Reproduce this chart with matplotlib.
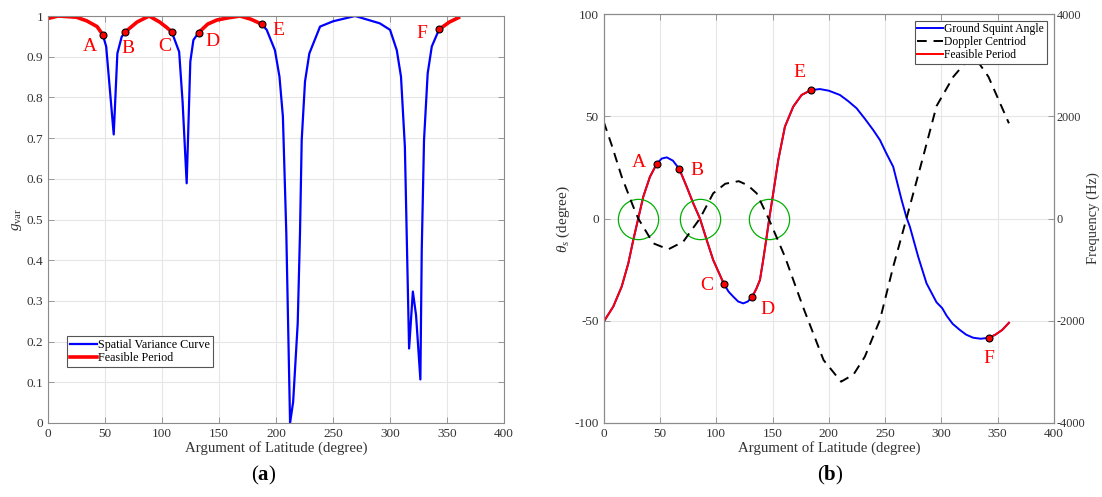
import numpy as np
import matplotlib
matplotlib.use("Agg")
import matplotlib.pyplot as plt
from matplotlib.lines import Line2D
from matplotlib.ticker import FuncFormatter

plt.rcParams['font.family'] = ['Liberation Serif', 'DejaVu Serif']
plt.rcParams['mathtext.fontset'] = 'custom'
plt.rcParams['mathtext.rm'] = 'Liberation Serif'
plt.rcParams['mathtext.it'] = 'Liberation Serif:italic'
plt.rcParams['mathtext.bf'] = 'Liberation Serif:bold'
plt.rcParams['axes.unicode_minus'] = False

# ---- panel (a): spatial variance curve ----
lat_a = [0, 8.8, 25, 34, 43, 48, 51, 57.6, 60.8, 64.6, 67.8, 78, 88.6, 98, 104, 108.5,
         115, 118, 121.6, 124.8, 127.5, 132, 140, 148, 157, 168.4, 178, 187.4, 191.8,
         199, 203, 206, 209, 212.3, 215, 219, 221, 222.5, 225.4, 229.2, 238.6, 250,
         269.3, 291, 300, 305.9, 309.6, 313, 316.7, 320, 322.8, 326.6, 327.8, 329.8,
         333, 336.6, 343, 352, 360]
g_var = [0.994, 1.0, 0.997, 0.988, 0.974, 0.954, 0.925, 0.709, 0.908, 0.949, 0.961, 0.985,
         1.0, 0.985, 0.972, 0.961, 0.912, 0.79, 0.589, 0.888, 0.941, 0.959, 0.98, 0.99,
         0.995, 1.0, 0.992, 0.980, 0.966, 0.916, 0.851, 0.753, 0.466, 0.0, 0.052, 0.245,
         0.466, 0.695, 0.839, 0.908, 0.974, 0.987, 1.0, 0.982, 0.966, 0.916, 0.851, 0.679,
         0.183, 0.323, 0.265, 0.107, 0.425, 0.695, 0.859, 0.925, 0.967, 0.985, 0.996]
pts_a = {'A': 48, 'B': 67.8, 'C': 108.5, 'D': 132, 'E': 187.4, 'F': 343}

# ---- panel (b): ground squint angle and doppler centroid ----
lat_b = [0, 8.5, 16, 21.9, 26.3, 30.7, 35.2, 41.1, 47.1, 51.5, 56, 61.5, 67.2, 73.7, 79.6,
         85.5, 91.5, 97.3, 106.8, 111, 115.1, 119.5, 124, 128, 132, 135.5, 138.8, 141.7,
         144.5, 147.1, 150.6, 155.1, 161, 168.4, 175.8, 184.1, 192.1, 200, 209.9, 217,
         224.7, 232, 239.4, 245.4, 251, 257.2, 264.7, 269, 272, 279.4, 286.8, 295.7,
         300.7, 304.6, 310, 316.4, 322, 328.2, 335, 342.4, 348, 354, 360]
squint = [-50.5, -43.1, -33.3, -21.9, -10.5, 0, 10.7, 20.4, 26.7, 29.3, 29.9, 28.3, 24.2,
          15.6, 7.4, 0, -10.5, -20.3, -32, -35.8, -38.2, -40.6, -41.5, -40.6, -38.2, -34.5,
          -30.1, -20.3, -10, 0, 12.3, 28.6, 44.9, 54.7, 60.4, 62.8, 63.3, 62.5, 60.4, 57.5,
          53.9, 48.8, 43.3, 38.4, 32, 25.3, 9, 0.5, -4, -18.7, -31.7, -41, -43.8, -47.5,
          -51.5, -54.5, -56.8, -58.3, -58.8, -58.3, -56.8, -54.5, -51]
pts_b = {'A': 47.1, 'B': 67.2, 'C': 106.8, 'D': 132, 'E': 184.1, 'F': 342.4}

lat_dop = [0, 7.1, 16, 26.3, 30.7, 44, 57.4, 70.7, 85.5, 97.3, 108, 120, 128, 135.9, 146.5,
           161, 177, 195.3, 210.9, 222, 232, 245.4, 257.2, 269, 283.8, 295.7, 310.6, 324.6,
           333, 341.8, 360]
doppler = [1894, 1438, 818, 231, 0, -485, -603, -453, 0, 493, 680, 730, 650, 493, 0,
           -747, -1725, -2768, -3192, -3050, -2703, -1985, -943, 0, 1209, 2200, 2773, 3133,
           3050, 2773, 1862]
crossings = [30.7, 85.5, 146.5]


def feasible(lat, val, pts):
    lat = np.asarray(lat, float)
    val = np.asarray(val, float)
    m = (lat <= pts['A']) | ((lat >= pts['B']) & (lat <= pts['C'])) | \
        ((lat >= pts['D']) & (lat <= pts['E'])) | (lat >= pts['F'])
    # break the red line between the intervals
    return lat, np.where(m, val, np.nan)


def style_axes(ax):
    for s in ax.spines.values():
        s.set_color('#8a8a8a')
        s.set_linewidth(0.8)
    ax.tick_params(direction='in', length=4, width=0.6, colors='#8a8a8a',
                   labelcolor='#333333', labelsize=9.5, top=True)
    ax.grid(True, color='#e6e6e6', linewidth=0.8)
    ax.set_axisbelow(True)


fmt = FuncFormatter(lambda v, p: '%g' % v)

fig = plt.figure(figsize=(11.02, 4.97), dpi=100)

# (a)
ax1 = fig.add_axes([0.0436, 0.1489, 0.4138, 0.8189])
style_axes(ax1)
ax1.tick_params(right=True)
ax1.plot(lat_a, g_var, color='#0000ff', lw=1.6, label='Spatial Variance Curve')
xr, yr = feasible(lat_a, g_var, pts_a)
ax1.plot(xr, yr, color='#ff0000', lw=2.6, label='Feasible Period')
offs_a = {'A': (-13, -12), 'B': (3, -17), 'C': (-7, -15), 'D': (14, -9), 'E': (17, -6), 'F': (-17, -4)}
for k, u in pts_a.items():
    g = g_var[lat_a.index(u)]
    ax1.plot(u, g, 'o', ms=5, mfc='#ff0000', mec='black', mew=0.8, zorder=5)
    ax1.annotate(k, (u, g), xytext=offs_a[k], textcoords='offset pixels',
                 ha='center', va='center', color='#ff0000', fontsize=14)
ax1.set_xlim(0, 400)
ax1.set_ylim(0, 1)
ax1.set_xticks(np.arange(0, 401, 50))
ax1.set_yticks(np.arange(0, 1.01, 0.1))
ax1.yaxis.set_major_formatter(fmt)
ax1.set_xlabel('Argument of Latitude (degree)', fontsize=10.7, color='#333333', labelpad=1)
ax1.set_ylabel(r'$g_{\mathrm{var}}$', fontsize=11, color='#333333', labelpad=2)
leg = ax1.legend(loc='lower left', bbox_to_anchor=(0.042, 0.138), fontsize=8.7,
                 handlelength=2.2, handletextpad=0.1, borderpad=0.25, labelspacing=0.05,
                 fancybox=False, framealpha=1, borderaxespad=0)
leg.get_frame().set_edgecolor('#555555')
leg.get_frame().set_linewidth(0.8)

# (b)
ax2 = fig.add_axes([0.5478, 0.1489, 0.4086, 0.8229])
style_axes(ax2)
ax2.plot(lat_b, squint, color='#0000ff', lw=1.4)
xr, yr = feasible(lat_b, squint, pts_b)
ax2.plot(xr, yr, color='#ff0000', lw=1.4)
ax2.plot(crossings, [0] * len(crossings), 'o', ms=29, mfc='none', mec='#00b000', mew=0.9)
offs_b = {'A': (-18, 1), 'B': (18, -1), 'C': (-17, -2), 'D': (15, -13), 'E': (-12, 18), 'F': (0, -21)}
for k, u in pts_b.items():
    t = squint[lat_b.index(u)]
    ax2.plot(u, t, 'o', ms=5, mfc='#ff0000', mec='black', mew=0.8, zorder=5)
    ax2.annotate(k, (u, t), xytext=offs_b[k], textcoords='offset pixels',
                 ha='center', va='center', color='#ff0000', fontsize=14)
ax2.set_xlim(0, 400)
ax2.set_ylim(-100, 100)
ax2.set_xticks(np.arange(0, 401, 50))
ax2.set_yticks([-100, -50, 0, 50, 100])
ax2.set_xlabel('Argument of Latitude (degree)', fontsize=10.7, color='#333333', labelpad=1)
ax2.set_ylabel(r'$\theta_s$ (degree)', fontsize=11, color='#333333', labelpad=2)

ax3 = ax2.twinx()
ax3.plot(lat_dop, doppler, color='black', lw=1.4, dashes=(5, 3.5))
ax3.set_ylim(-4000, 4000)
ax3.set_yticks([-4000, -2000, 0, 2000, 4000])
for s in ax3.spines.values():
    s.set_color('#8a8a8a')
ax3.tick_params(direction='in', length=4, width=0.6, colors='#8a8a8a',
                labelcolor='#333333', labelsize=8.8, pad=2)
ax3.set_ylabel('Frequency (Hz)', fontsize=10.5, color='#333333', labelpad=1)

handles = [Line2D([], [], color='#0000ff', lw=1.4),
           Line2D([], [], color='black', lw=1.4, dashes=(5, 3.5)),
           Line2D([], [], color='#ff0000', lw=1.4)]
leg2 = ax3.legend(handles, ['Ground Squint Angle', 'Doppler Centriod', 'Feasible Period'],
                  loc='upper right', bbox_to_anchor=(0.9845, 0.984), fontsize=8.4,
                  handlelength=2.2, handletextpad=0.1, borderpad=0.25, labelspacing=0.05,
                  fancybox=False, framealpha=1, borderaxespad=0)
leg2.get_frame().set_edgecolor('#555555')
leg2.get_frame().set_linewidth(0.8)

fig.text(0.2396, 0.044, r'($\mathbf{a}$)', ha='center', va='center', fontsize=15)
fig.text(0.7538, 0.044, r'($\mathbf{b}$)', ha='center', va='center', fontsize=15)

fig.savefig('out.png', dpi=100)
